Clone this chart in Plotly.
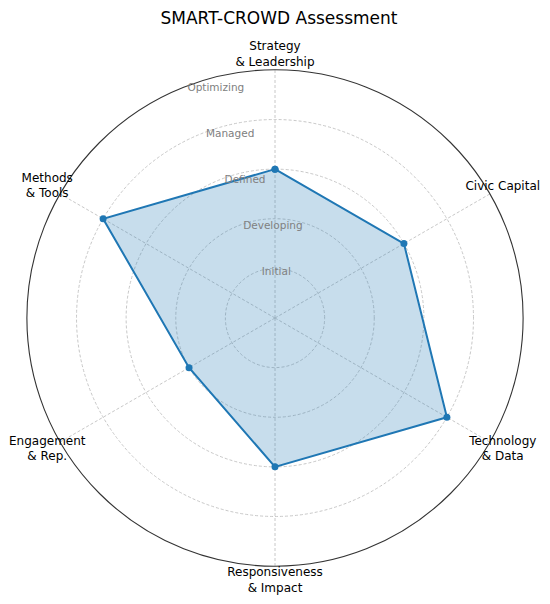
import plotly.graph_objects as go

categories = ['Strategy<br>& Leadership', 'Civic Capital', 'Technology<br>& Data',
              'Responsiveness<br>& Impact', 'Engagement<br>& Rep.', 'Methods<br>& Tools']
scores = [3, 3, 4, 3, 2, 4]
level_vals = [1, 2, 3, 4, 5]
level_names = ['Initial', 'Developing', 'Defined', 'Managed', 'Optimizing']
label_r = 5.3

fig = go.Figure()
fig.add_trace(go.Scatterpolar(
    r=scores + scores[:1], theta=categories + categories[:1],
    mode='lines+markers', fill='toself',
    fillcolor='rgba(31,119,180,0.25)',
    line=dict(color='#1f77b4', width=2),
    marker=dict(color='#1f77b4', size=7),
    showlegend=False))
# category labels just outside the outer ring, on a slightly larger invisible polar
fig.add_trace(go.Scatterpolar(
    r=[label_r] * len(categories), theta=categories, mode='text', text=categories,
    textposition='middle center', textfont=dict(size=12, color='black'),
    cliponaxis=False, showlegend=False, hoverinfo='skip', subplot='polar2'))

ang = dict(direction='clockwise', rotation=90)
inner = (1 - 5 / label_r) / 2
fig.update_layout(
    width=542, height=596,
    paper_bgcolor='white',
    font=dict(family='DejaVu Sans', color='black'),
    title=dict(text='SMART-CROWD Assessment', x=0.5, xanchor='center', y=1 - 10 / 596, yanchor='middle',
               font=dict(size=17, color='black')),
    margin=dict(l=4, r=12, t=47, b=23),
    polar=dict(
        domain=dict(x=[inner, 1 - inner], y=[inner, 1 - inner]),
        bgcolor='white',
        angularaxis=dict(**ang, showline=True, linecolor='#333',
                         linewidth=1.1, gridcolor='#c8c8c8', gridwidth=0.8, griddash='3px,2px',
                         ticks='', showticklabels=False),
        radialaxis=dict(range=[0, 5], tickvals=level_vals, ticktext=level_names, angle=112,
                        tickangle=112, showline=False, ticks='', gridcolor='#c8c8c8', gridwidth=0.8,
                        griddash='3px,2px', tickfont=dict(size=10.5, color='gray')),
    ),
    polar2=dict(
        domain=dict(x=[0, 1], y=[0, 1]),
        bgcolor='rgba(0,0,0,0)',
        angularaxis=dict(**ang, visible=False),
        radialaxis=dict(range=[0, label_r], visible=False),
    ),
)
fig.write_html('out.html')
